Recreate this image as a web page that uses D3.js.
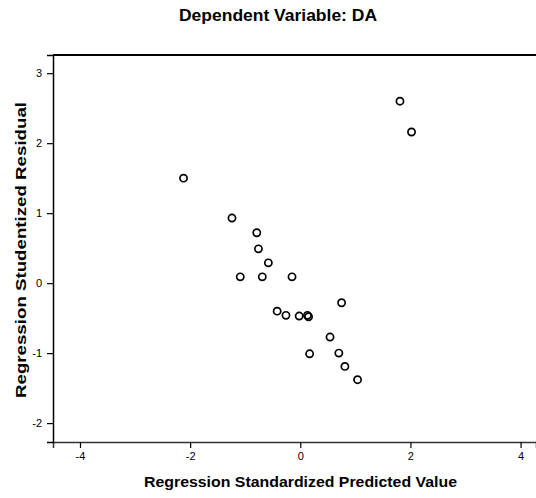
<!DOCTYPE html>
<html>
<head>
<meta charset="utf-8">
<script src="https://cdn.jsdelivr.net/npm/d3@7"></script>
<style>
  body { margin: 0; background: #fff; }
  svg text { font-family: "Liberation Sans", Arial, sans-serif; fill: #000; }
</style>
</head>
<body>
<div id="chart"></div>
<script>
// standardized predicted value (x) and studentized residual (y)
const predicted = [-2.12, -1.24, -0.79, -0.76, -0.58, -1.09, -0.69, -0.15, 0.75, -0.42,
  -0.26, -0.02, 0.13, 0.15, 0.54, 0.17, 0.70, 0.81, 1.04, 1.81, 2.02];
const residual = [1.50, 0.93, 0.72, 0.49, 0.29, 0.09, 0.09, 0.09, -0.28, -0.40,
  -0.46, -0.47, -0.46, -0.48, -0.77, -1.01, -1.00, -1.19, -1.38, 2.60, 2.16];
const xTicks = [-4, -2, 0, 2, 4];
const yTicks = [-2, -1, 0, 1, 2, 3];

const w = 536, h = 498;
const margin = { top: 55, right: 0, bottom: 56, left: 53 };

const svg = d3.select("#chart").append("svg")
  .attr("width", w).attr("height", h);

const x = d3.scaleLinear().domain([-4.49, 4.28]).range([margin.left, w - margin.right]);
const y = d3.scaleLinear().domain([-2.27, 3.26]).range([h - margin.bottom, margin.top]);

// top edge of the frame
svg.append("line")
  .attr("x1", margin.left).attr("x2", w)
  .attr("y1", margin.top).attr("y2", margin.top)
  .attr("stroke", "#000").attr("stroke-width", 2);

const minus = d => d < 0 ? "-" + Math.abs(d) : d;

const xAxis = d3.axisBottom(x).tickValues(xTicks).tickSize(6);
const gx = svg.append("g")
  .attr("transform", `translate(0,${h - margin.bottom})`)
  .call(xAxis);
gx.select(".domain").attr("stroke", "#333").attr("stroke-width", 1.5);
gx.selectAll(".tick line").attr("stroke", "#000").attr("stroke-width", 1.2);
gx.selectAll(".tick text").attr("font-size", 11).attr("dy", "0.8em").text(minus);

const yAxis = d3.axisLeft(y).tickValues(yTicks).tickSize(6);
const gy = svg.append("g")
  .attr("transform", `translate(${margin.left},0)`)
  .call(yAxis);
gy.select(".domain").attr("stroke", "#000").attr("stroke-width", 1.5);
gy.selectAll(".tick line").attr("stroke", "#000").attr("stroke-width", 1.2);
gy.selectAll(".tick text").attr("font-size", 11).attr("x", -11).text(minus);

// points
svg.append("g")
  .selectAll("circle")
  .data(predicted.map((p, i) => [p, residual[i]]))
  .enter()
  .append("circle")
  .attr("cx", d => x(d[0]))
  .attr("cy", d => y(d[1]))
  .attr("r", 3.6)
  .attr("fill", "none")
  .attr("stroke", "#000")
  .attr("stroke-width", 1.7);

// titles
svg.append("text")
  .attr("x", 278).attr("y", 21)
  .attr("text-anchor", "middle")
  .attr("font-size", 16).attr("font-weight", "bold")
  .attr("textLength", 198).attr("lengthAdjust", "spacingAndGlyphs")
  .text("Dependent Variable: DA");

svg.append("text")
  .attr("x", 300.5).attr("y", 487)
  .attr("text-anchor", "middle")
  .attr("font-size", 15).attr("font-weight", "bold")
  .attr("textLength", 313).attr("lengthAdjust", "spacingAndGlyphs")
  .text("Regression Standardized Predicted Value");

svg.append("text")
  .attr("transform", "translate(25.5,250) rotate(-90)")
  .attr("text-anchor", "middle")
  .attr("font-size", 15.5).attr("font-weight", "bold")
  .attr("textLength", 296).attr("lengthAdjust", "spacingAndGlyphs")
  .text("Regression Studentized Residual");
</script>
</body>
</html>
